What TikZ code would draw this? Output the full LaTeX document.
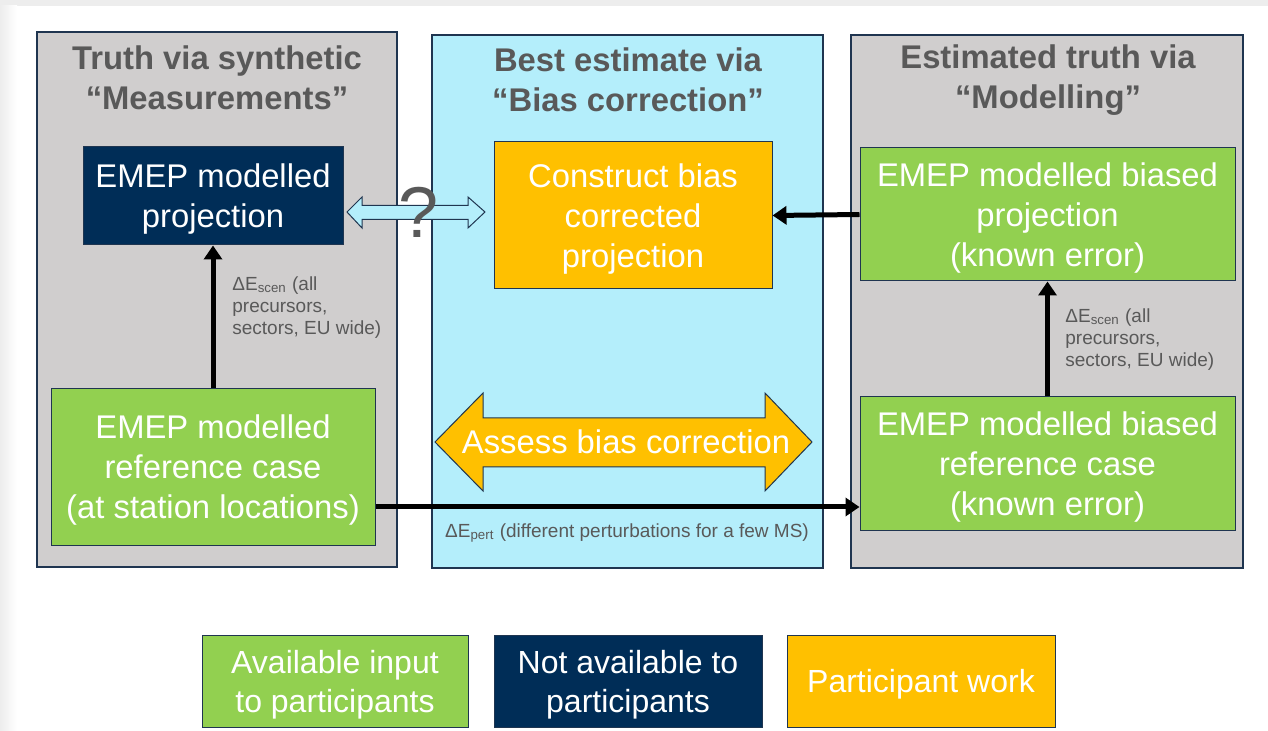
\documentclass[tikz,border=0pt]{standalone}
\usepackage{fontspec}
\setmainfont{Liberation Sans}
\usetikzlibrary{arrows.meta,positioning}
\definecolor{panelgray}{HTML}{D0CECE}
\definecolor{skyblue}{HTML}{B4EEFB}
\definecolor{navybox}{HTML}{002D57}
\definecolor{greenbox}{HTML}{92D050}
\definecolor{orangebox}{HTML}{FFC000}
\definecolor{edgenavy}{HTML}{1F3550}
\definecolor{textgray}{HTML}{595959}
\definecolor{framegray}{HTML}{EDEDED}

\begin{document}
\begin{tikzpicture}[x=0.5pt,y=-0.5pt,
    panel/.style={rectangle,draw=edgenavy,line width=0.75pt},
    title/.style={text=textgray,align=center,font=\fontsize{16.4}{20}\selectfont\bfseries},
    box/.style={rectangle,draw=edgenavy,line width=0.5pt,text=white,align=center,
                inner sep=2pt,text depth=0pt,font=\fontsize{16.4}{20}\selectfont},
    note/.style={text=textgray,align=left,inner sep=0pt,font=\fontsize{9.5}{11}\selectfont},
    flow/.style={line width=2.5pt,-{Triangle[length=7pt,width=9pt]}},
    legend/.style={box,minimum width=134pt,minimum height=46pt,font=\fontsize{16}{19.5}\selectfont}]

  % page frame
  \useasboundingbox (0,0) rectangle (1268,731);
  \fill[white] (0,0) rectangle (1268,731);
  \fill[framegray] (0,0) rectangle (1268,6);
  \shade[left color=framegray,right color=white] (0,6) rectangle (17,731);

  % panels
  \node[panel,fill=panelgray,minimum width=180pt,minimum height=267.5pt] (pleft) at (217,299.5) {};
  \node[panel,fill=skyblue,minimum width=195.5pt,minimum height=266.5pt] (pmid) at (627.5,301.5) {};
  \node[panel,fill=panelgray,minimum width=196pt,minimum height=266.5pt] (pright) at (1047,301.5) {};

  \node[title] (tleft) at (217,78) {Truth via synthetic\\“Measurements”};
  \node[title] (tmid) at (628,80) {Best estimate via\\“Bias correction”};
  \node[title] (tright) at (1048,80) {Estimated truth via\\“Modelling”};

  % boxes
  \node[box,fill=navybox,minimum width=130pt,minimum height=49pt] (proj) at (213,196) {EMEP modelled\\projection};
  \node[box,fill=orangebox,minimum width=139pt,minimum height=73.5pt] (construct) at (633,215.5) {Construct bias\\corrected\\projection};
  \node[box,fill=greenbox,minimum width=187.5pt,minimum height=66.5pt] (biasproj) at (1047.5,214.5) {EMEP modelled biased\\projection\\(known error)};
  \node[box,fill=greenbox,minimum width=162pt,minimum height=78pt] (refcase) at (213,467) {EMEP modelled\\reference case\\(at station locations)};
  \node[box,fill=greenbox,minimum width=187.5pt,minimum height=67pt] (biasref) at (1047.5,464) {EMEP modelled biased\\reference case\\(known error)};

  % connectors
  \draw[flow] (refcase.north) -- (proj.south);
  \draw[flow] (biasref.north) -- (biasproj.south);
  \draw[flow] (biasproj.west) -- (construct.east);
  \draw[flow] (refcase.east |- 0,507) -- (biasref.west |- 0,507);

  \node[note,anchor=west] (escleft) at (232,308) {ΔE\textsubscript{scen} (all\\precursors,\\sectors, EU wide)};
  \node[note,anchor=west] (escright) at (1065,340) {ΔE\textsubscript{scen} (all\\precursors,\\sectors, EU wide)};
  \node[note] (epert) at (627,533) {ΔE\textsubscript{pert} (different perturbations for a few MS)};

  % assess arrow
  \fill[orangebox,draw=edgenavy,line width=0.5pt]
    (435,442) -- (483,393) -- (483,418) -- (765,418) -- (765,393) -- (812,442)
    -- (765,491) -- (765,467) -- (483,467) -- (483,491) -- cycle;
  \node[text=white,font=\fontsize{16.4}{20}\selectfont] (assess) at (626,442) {Assess bias correction};

  % comparison arrow
  \fill[skyblue,draw=edgenavy,line width=0.5pt]
    (347,212) -- (362,197) -- (362,205.5) -- (468,205.5) -- (468,197) -- (485,212)
    -- (468,228) -- (468,219.5) -- (362,219.5) -- (362,228) -- cycle;
  \node[text=textgray,font=\fontsize{36}{40}\selectfont] (query) at (419,212) {?};

  % legend
  \node[legend,fill=greenbox,minimum width=133pt] (lgreen) at (335,681) {Available input\\to participants};
  \node[legend,fill=navybox] (lnavy) at (628,681) {Not available to\\participants};
  \node[legend,fill=orangebox] (lorange) at (921,681) {Participant work};
\end{tikzpicture}
\end{document}
